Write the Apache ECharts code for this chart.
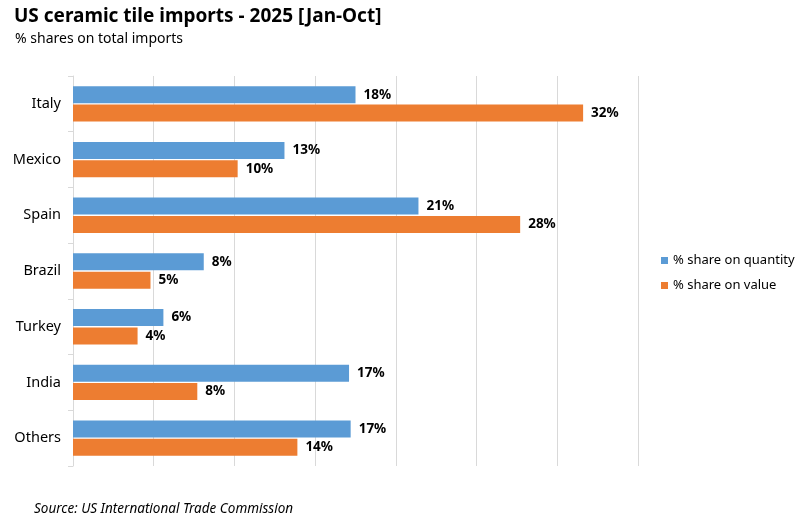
<!DOCTYPE html>
<html>
<head>
<meta charset="utf-8">
<script src="https://cdn.jsdelivr.net/npm/echarts@6/dist/echarts.min.js"></script>
<style>
  html, body { margin: 0; padding: 0; background: #fff; }
  #chart { width: 800px; height: 518px; }
</style>
</head>
<body>
<div id="chart"></div>
<script>
var countries = ['Italy', 'Mexico', 'Spain', 'Brazil', 'Turkey', 'India', 'Others'];
var shareQuantity = [17.5, 13.1, 21.4, 8.1, 5.6, 17.1, 17.2];
var shareValue = [31.6, 10.2, 27.7, 4.8, 4.0, 7.7, 13.9];

var font = 'Noto Sans';
var chart = echarts.init(document.getElementById('chart'));

var labelOpt = {
    show: true,
    position: 'right',
    distance: 8,
    color: '#000',
    fontFamily: font,
    fontWeight: 'bold',
    fontSize: 13.5,
    formatter: function (p) {
        return Math.round(p.value) + '%';
    }
};

chart.setOption({
    animation: false,
    title: [{
        text: 'US ceramic tile imports - 2025 [Jan-Oct]',
        left: 9,
        top: 2,
        textStyle: { fontFamily: font, fontSize: 19, fontWeight: 'bold', color: '#000' }
    }, {
        text: '% shares on total imports',
        left: 10,
        top: 27,
        textStyle: { fontFamily: font, fontSize: 14, fontWeight: 'normal', color: '#000' }
    }, {
        text: 'Source: US International Trade Commission',
        left: 29,
        top: 497,
        textStyle: { fontFamily: font, fontSize: 13.5, fontStyle: 'italic', fontWeight: 'normal', color: '#000' }
    }],
    legend: {
        orient: 'vertical',
        left: 656,
        top: 249,
        itemWidth: 7,
        itemHeight: 7,
        itemGap: 12,
        icon: 'rect',
        textStyle: { fontFamily: font, fontSize: 13, color: '#000' },
        data: ['% share on quantity', '% share on value']
    },
    grid: { left: 73, right: 162, top: 76, height: 390 },
    xAxis: {
        type: 'value',
        min: 0,
        max: 35,
        interval: 5,
        axisLabel: { show: false },
        axisLine: { show: false },
        axisTick: { show: false },
        splitLine: { lineStyle: { color: '#d9d9d9' } }
    },
    yAxis: {
        type: 'category',
        inverse: true,
        data: countries,
        axisLine: { lineStyle: { color: '#d9d9d9' } },
        axisTick: { show: true, length: 5, lineStyle: { color: '#d9d9d9' } },
        axisLabel: { fontFamily: font, fontSize: 14.5, color: '#000', margin: 12 }
    },
    series: [{
        name: '% share on quantity',
        type: 'bar',
        data: shareQuantity,
        barWidth: 17,
        barGap: '8%',
        itemStyle: { color: '#5b9bd5' },
        label: labelOpt
    }, {
        name: '% share on value',
        type: 'bar',
        data: shareValue,
        barWidth: 17,
        itemStyle: { color: '#ed7d31' },
        label: labelOpt
    }]
});
</script>
</body>
</html>
